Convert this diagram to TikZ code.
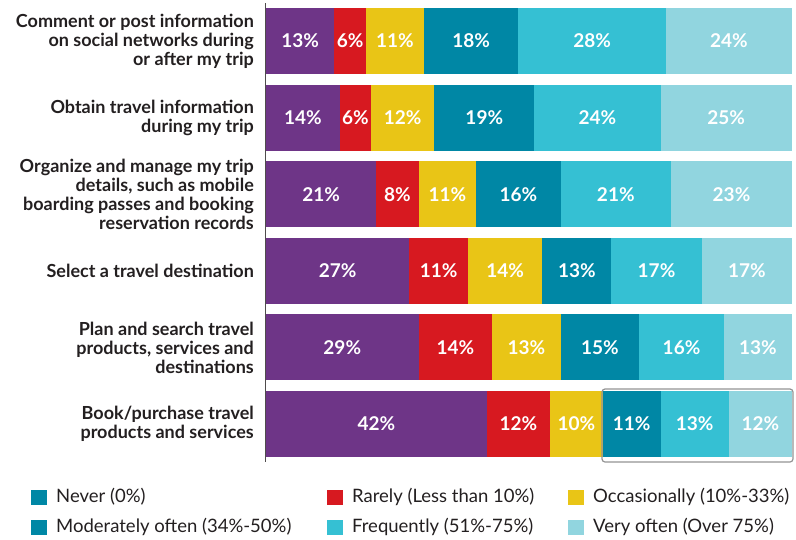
\documentclass[tikz,border=0pt]{standalone}
\usepackage{fontspec}
\setmainfont{Lato}
\usetikzlibrary{positioning}
\definecolor{cPurple}{HTML}{6E3587}
\definecolor{cRed}{HTML}{D71920}
\definecolor{cYellow}{HTML}{E9C516}
\definecolor{cDark}{HTML}{0087A5}
\definecolor{cTeal}{HTML}{35C0D3}
\definecolor{cLight}{HTML}{91D5DF}
\definecolor{cText}{HTML}{231F20}
\colorlet{c1}{cPurple}
\colorlet{c2}{cRed}
\colorlet{c3}{cYellow}
\colorlet{c4}{cDark}
\colorlet{c5}{cTeal}
\colorlet{c6}{cLight}

\begin{document}
\begin{tikzpicture}[x=1pt, y=-1pt,% one unit = one pixel, y downwards
   cat/.style = {anchor=east, align=right, text=cText,
                 font=\fontsize{18}{19}\selectfont\bfseries,
                 inner sep=0pt},
   pct/.style = {text=white, font=\fontsize{19}{20}\selectfont\bfseries,
                 inner sep=0pt},
swatch/.style = {fill=#1, minimum width=16pt, minimum height=15pt,
                 inner sep=0pt, outer sep=0pt},
   key/.style = {text=cText, font=\fontsize{18.5}{20}\selectfont,
                 inner sep=0pt, anchor=west}
                    ]
    \useasboundingbox (0,0) rectangle (796,539);

    % vertical axis
    \draw[cText!80, line width=1pt] (265,3) -- (265,462);

    % stacked bars, each scaled to its own total
    \foreach \lbl/\vals [count=\r] in {
        {Comment or post information\\on social networks during\\or after my trip}/{13,6,11,18,28,24},
        {Obtain travel information\\during my trip}/{14,6,12,19,24,25},
        {Organize and manage my trip\\details, such as mobile\\boarding passes and booking\\reservation records}/{21,8,11,16,21,23},
        {Select a travel destination}/{27,11,14,13,17,17},
        {Plan and search travel\\products, services and\\destinations}/{29,14,13,15,16,13},
        {Book/purchase travel\\products and services}/{42,12,10,11,13,12}}
    {
        \pgfmathsetmacro\top{8+76.6*(\r-1)}
        \pgfmathsetmacro\mid{\top+33}
        \node[cat] (lbl\r) at (254,\mid) {\lbl};
        \gdef\tot{0}
        \foreach \v in \vals {
            \pgfmathsetmacro\tmp{\tot+\v}
            \xdef\tot{\tmp}
        }
        \pgfmathsetmacro\unit{526/\tot}
        \gdef\acc{0}
        \foreach \v [count=\k] in \vals {
            \pgfmathsetmacro\xa{266+\unit*\acc}
            \pgfmathsetmacro\xb{266+\unit*(\acc+\v)}
            \fill[c\k] (\xa,\top) rectangle (\xb,\top+66);
            \node[pct] (bar\r-\k) at ({(\xa+\xb)/2},\mid) {\v\%};
            \pgfmathsetmacro\tmp{\acc+\v}
            \xdef\acc{\tmp}
        }
    }

    % highlight on the last bar
    \draw[gray!85, line width=1.2pt, rounded corners=3pt] (602,389) rectangle (793,462);

    % legend
    \node[swatch=cDark]   (k1) at (39,497)  {};
    \node[key, right=9pt of k1] (t1) {Never (0\%)};
    \node[swatch=cRed]    (k2) at (335,497) {};
    \node[key, right=9pt of k2] (t2) {Rarely (Less than 10\%)};
    \node[swatch=cYellow] (k3) at (576,497) {};
    \node[key, right=9pt of k3] (t3) {Occasionally (10\%-33\%)};
    \node[swatch=cDark]   (k4) at (39,527)  {};
    \node[key, right=9pt of k4] (t4) {Moderately often (34\%-50\%)};
    \node[swatch=cTeal]   (k5) at (335,527) {};
    \node[key, right=9pt of k5] (t5) {Frequently (51\%-75\%)};
    \node[swatch=cLight]  (k6) at (576,527) {};
    \node[key, right=9pt of k6] (t6) {Very often (Over 75\%)};
\end{tikzpicture}
\end{document}
